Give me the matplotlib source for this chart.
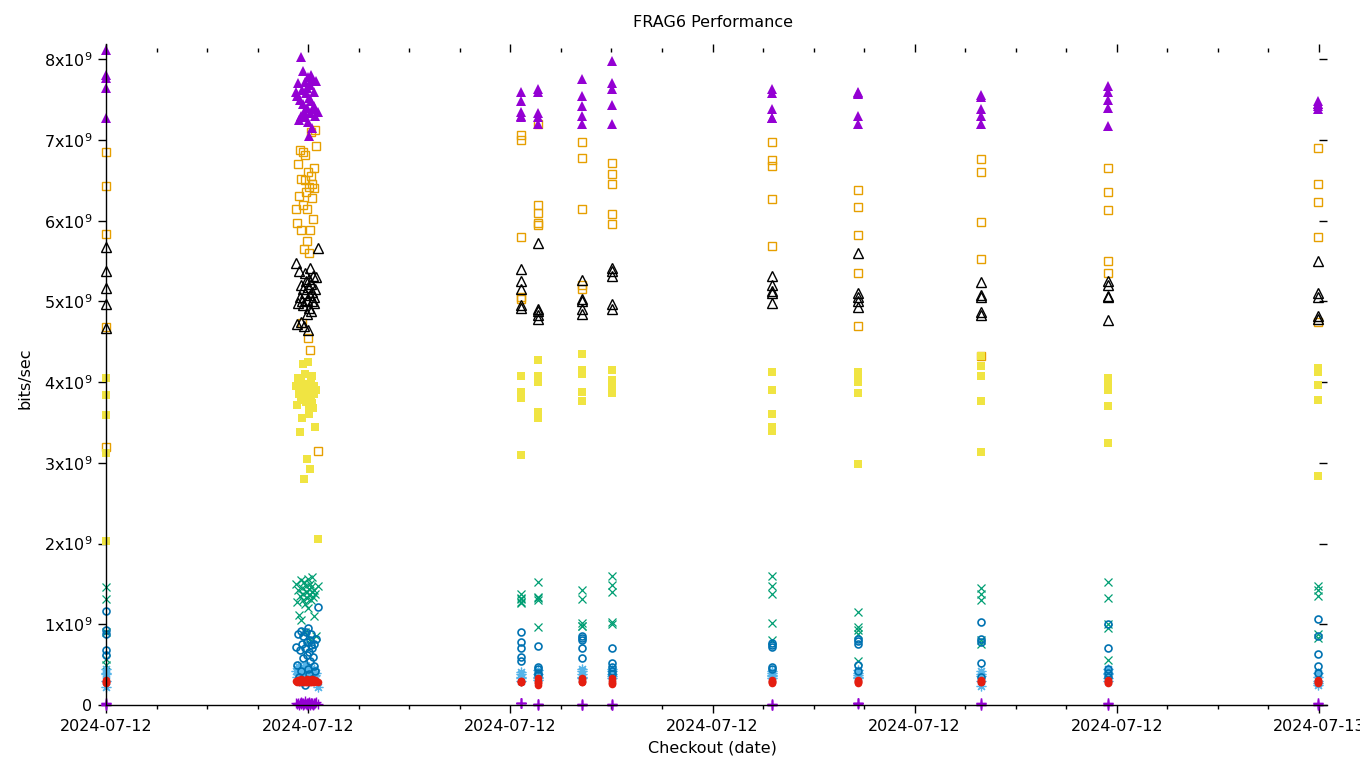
import numpy as np
import pandas as pd
import matplotlib
matplotlib.use("Agg")
import matplotlib.pyplot as plt
import matplotlib.dates as mdates
from matplotlib.ticker import FuncFormatter, MultipleLocator

# run times, hours after 2024-07-12 00:00
cluster_hours = [3.76, 3.78, 3.80, 3.82, 3.83, 3.85, 3.86, 3.88, 3.89, 3.90, 3.92, 3.93,
                 3.94, 3.96, 3.97, 3.98, 3.99, 4.00, 4.01, 4.02, 4.03, 4.04, 4.05, 4.06,
                 4.07, 4.08, 4.09, 4.11, 4.12, 4.14, 4.16, 4.19]
later_hours = [8.22, 8.54, 9.41, 10.02, 13.17, 14.87, 17.32, 19.83, 23.98]
run_hours = [0.0] * 5 + cluster_hours + [h for h in later_hours for _ in range(5)]

# values in units of 1e9 bits/sec, order: first run group, cluster, later groups
plus_purple = [0.03, 0.0, 0.01, 0.02, 0.0,
               0.02, 0.01, 0.03, 0.0, 0.02, 0.04, 0.01, 0.02, 0.0, 0.03, 0.01, 0.02, 0.05, 0.01, 0.02, 0.0,
               0.03, 0.01, 0.02, 0.04, 0.01, 0.0, 0.02, 0.03, 0.01, 0.02, 0.0, 0.03, 0.01, 0.02, 0.04, 0.01,
               0.03, 0.02, 0.03, 0.02, 0.03,  0.01, 0.0, 0.01, 0.0, 0.01,  0.0, 0.01, 0.0, 0.01, 0.0,
               0.0, 0.01, 0.0, 0.01, 0.0,  0.0, 0.01, 0.0, 0.01, 0.0,  0.02, 0.01, 0.02, 0.03, 0.02,
               0.03, 0.0, 0.01, 0.03, 0.0,  0.03, 0.0, 0.01, 0.02, 0.0,  0.03, 0.0, 0.01, 0.02, 0.0]
x_green = [1.46, 1.31, 0.9, 0.57, 0.5,
           1.5, 1.28, 1.42, 1.12, 1.35, 1.55, 1.05, 1.45, 1.3, 1.38, 1.52, 0.9, 1.25, 1.48, 1.4, 1.33,
           1.56, 1.2, 1.44, 1.36, 1.5, 0.82, 1.3, 1.46, 1.4, 1.58, 1.34, 1.1, 1.42, 1.38, 0.85, 1.48,
           1.37, 1.33, 1.31, 1.28, 1.26,  1.52, 1.34, 1.32, 1.3, 0.97,  1.42, 1.31, 1.01, 0.98, 0.98,
           1.6, 1.49, 1.4, 1.03, 1.0,  1.6, 1.48, 1.38, 1.01, 0.8,  1.15, 0.97, 0.93, 0.88, 0.55,
           1.45, 1.38, 1.3, 0.8, 0.75,  1.53, 1.32, 1.0, 0.95, 0.56,  1.48, 1.42, 1.35, 0.88, 0.83]
star_lightblue = [0.45, 0.4, 0.38, 0.3, 0.22,
                  0.42, 0.35, 0.48, 0.3, 0.38, 0.45, 0.33, 0.4, 0.28, 0.44, 0.36, 0.5, 0.32, 0.4, 0.46, 0.34,
                  0.38, 0.42, 0.3, 0.47, 0.36, 0.4, 0.33, 0.44, 0.38, 0.35, 0.42, 0.31, 0.45, 0.37, 0.4, 0.22,
                  0.41, 0.38, 0.35, 0.33, 0.3,  0.43, 0.38, 0.35, 0.33, 0.31,  0.45, 0.42, 0.38, 0.35, 0.33,
                  0.45, 0.42, 0.39, 0.36, 0.33,  0.42, 0.4, 0.37, 0.36, 0.34,  0.43, 0.4, 0.37, 0.35, 0.33,
                  0.42, 0.38, 0.36, 0.3, 0.24,  0.45, 0.4, 0.38, 0.33, 0.3,  0.4, 0.35, 0.3, 0.27, 0.25]
sq_orange = [6.85, 6.43, 5.83, 4.68, 3.2,
             6.15, 5.97, 6.7, 6.3, 6.88, 5.88, 6.52, 4.73, 6.2, 6.85, 5.65, 6.5, 6.82, 6.35, 6.15, 5.75,
             4.55, 6.6, 6.42, 5.6, 4.4, 5.88, 6.55, 7.1, 6.45, 6.28, 6.02, 6.4, 6.65, 7.12, 6.93, 3.15,
             7.06, 7.0, 5.8, 5.05, 5.03,  7.2, 6.2, 6.1, 5.97, 5.95,  6.98, 6.78, 6.15, 5.2, 5.15,
             6.72, 6.58, 6.45, 6.08, 5.96,  6.98, 6.75, 6.68, 6.27, 5.69,  6.38, 6.17, 5.82, 5.35, 4.7,
             6.77, 6.6, 5.98, 5.53, 4.32,  6.65, 6.36, 6.13, 5.5, 5.35,  6.9, 6.45, 6.23, 5.8, 4.75]
fsq_yellow = [4.05, 3.84, 3.59, 3.12, 2.03,
              3.95, 3.72, 4.05, 3.85, 3.38, 3.78, 4.0, 3.55, 3.9, 4.22, 2.8, 3.82, 4.1, 3.75, 3.05, 3.98,
              4.25, 3.88, 3.6, 3.7, 2.92, 3.92, 4.02, 3.8, 3.74, 4.08, 3.68, 3.85, 3.95, 3.45, 3.9, 2.06,
              4.07, 3.88, 3.82, 3.8, 3.1,  4.28, 4.07, 4.0, 3.63, 3.55,  4.35, 4.15, 4.1, 3.88, 3.77,
              4.15, 4.03, 3.97, 3.9, 3.86,  4.13, 3.9, 3.6, 3.45, 3.4,  4.13, 4.05, 4.0, 3.86, 2.99,
              4.32, 4.2, 4.08, 3.77, 3.14,  4.05, 4.0, 3.9, 3.7, 3.25,  4.17, 4.13, 3.96, 3.78, 2.84]
circ_blue = [1.17, 0.93, 0.88, 0.68, 0.62,
             0.72, 0.5, 0.88, 0.35, 0.68, 0.92, 0.42, 0.75, 0.58, 0.85, 0.3, 0.7, 0.25, 0.9, 0.62, 0.78,
             0.45, 0.95, 0.66, 0.38, 0.8, 0.55, 0.74, 0.88, 0.32, 0.7, 0.6, 0.48, 0.76, 0.42, 0.82, 1.21,
             0.9, 0.78, 0.7, 0.6, 0.55,  0.73, 0.47, 0.45, 0.4, 0.37,  0.86, 0.83, 0.8, 0.7, 0.58,
             0.7, 0.52, 0.47, 0.42, 0.38,  0.77, 0.74, 0.72, 0.47, 0.45,  0.82, 0.79, 0.76, 0.5, 0.42,
             1.03, 0.82, 0.78, 0.52, 0.35,  1.0, 0.7, 0.45, 0.4, 0.35,  1.07, 0.85, 0.63, 0.48, 0.4]
fcirc_red = [0.3, 0.29, 0.28, 0.27, 0.31,
             0.3, 0.29, 0.31, 0.28, 0.3, 0.32, 0.29, 0.3, 0.31, 0.28, 0.3, 0.29, 0.31, 0.3, 0.28, 0.32,
             0.3, 0.29, 0.31, 0.3, 0.28, 0.3, 0.31, 0.29, 0.3, 0.32, 0.28, 0.3, 0.29, 0.31, 0.3, 0.29,
             0.3, 0.29, 0.28, 0.3, 0.29,  0.33, 0.3, 0.28, 0.27, 0.25,  0.34, 0.32, 0.3, 0.29, 0.28,
             0.33, 0.31, 0.29, 0.27, 0.26,  0.31, 0.3, 0.28, 0.27, 0.29,  0.31, 0.3, 0.29, 0.28, 0.27,
             0.31, 0.3, 0.28, 0.29, 0.3,  0.31, 0.3, 0.28, 0.27, 0.29,  0.3, 0.29, 0.28, 0.27, 0.31]
tri_black = [5.68, 5.38, 5.17, 4.97, 4.67,
             5.47, 4.72, 4.98, 5.38, 5.05, 4.75, 5.2, 5.0, 5.15, 4.95, 4.7, 5.35, 5.1, 5.25, 4.85, 5.02,
             4.65, 5.18, 5.28, 4.92, 5.42, 5.08, 5.22, 4.88, 5.12, 5.0, 5.32, 5.05, 4.98, 5.15, 5.3, 5.66,
             5.4, 5.25, 5.15, 4.95, 4.92,  5.72, 4.9, 4.88, 4.83, 4.78,  5.27, 5.03, 5.0, 4.9, 4.85,
             5.42, 5.38, 5.32, 4.97, 4.9,  5.32, 5.2, 5.13, 5.1, 4.98,  5.6, 5.1, 5.05, 5.0, 4.93,
             5.24, 5.08, 5.05, 4.87, 4.83,  5.25, 5.2, 5.07, 5.05, 4.77,  5.5, 5.1, 5.05, 4.82, 4.78]
ftri_purple = [8.12, 7.8, 7.77, 7.65, 7.27,
               7.6, 7.55, 7.7, 7.25, 7.5, 8.03, 7.3, 7.62, 7.85, 7.45, 7.35, 7.72, 7.28, 7.58, 7.65, 7.4,
               7.22, 7.78, 7.05, 7.52, 7.68, 7.33, 7.8, 7.48, 7.75, 7.15, 7.38, 7.6, 7.42, 7.3, 7.73, 7.35,
               7.6, 7.48, 7.35, 7.3, 7.28,  7.63, 7.6, 7.33, 7.28, 7.2,  7.76, 7.55, 7.42, 7.3, 7.2,
               7.98, 7.7, 7.63, 7.43, 7.2,  7.63, 7.58, 7.38, 7.27, 7.27,  7.6, 7.57, 7.58, 7.3, 7.2,
               7.56, 7.53, 7.38, 7.3, 7.2,  7.67, 7.6, 7.5, 7.4, 7.17,  7.48, 7.45, 7.42, 7.38, 7.45]

start = pd.Timestamp("2024-07-12")
times = start + pd.to_timedelta(run_hours, unit="h")

series = [
    (plus_purple, dict(marker="+", color="#9400d3", ms=7, mew=1.0)),
    (x_green, dict(marker="x", color="#009e73", ms=6, mew=0.9)),
    (star_lightblue, dict(marker=(8, 2, 0), color="#56b4e9", ms=7, mew=0.9)),
    (sq_orange, dict(marker="s", mfc="none", mec="#e69f00", ms=5.5, mew=1.0)),
    (fsq_yellow, dict(marker="s", color="#f0e442", ms=5.5, mew=0)),
    (circ_blue, dict(marker="o", mfc="none", mec="#0072b2", ms=5, mew=1.2)),
    (fcirc_red, dict(marker="o", color="#e51e10", ms=5.5, mew=0)),
    (tri_black, dict(marker="^", mfc="none", mec="black", ms=6.5, mew=1.0)),
    (ftri_purple, dict(marker="^", color="#9400d3", ms=6.5, mew=0)),
]

fig = plt.figure(figsize=(13.6, 7.68), dpi=100)
ax = fig.add_axes([106 / 1360, 63 / 768, 1213 / 1360, 653 / 768])

for vals, kw in series:
    ax.plot(times, np.array(vals) * 1e9, linestyle="none", clip_on=False, **kw)

t0 = mdates.date2num(start)
ax.set_xlim(t0, t0 + 1.0)
ax.set_ylim(0, 8.09e9)

ax.xaxis.set_major_locator(mdates.HourLocator(byhour=[0, 4, 8, 12, 16, 20]))
ax.xaxis.set_minor_locator(mdates.HourLocator())
ax.xaxis.set_major_formatter(mdates.DateFormatter("%Y-%m-%d"))
ax.yaxis.set_major_locator(MultipleLocator(1e9))
ax.yaxis.set_major_formatter(FuncFormatter(
    lambda v, p: "0" if v == 0 else "%dx10$^{9}$" % round(v / 1e9)))

for s in ["top", "right"]:
    ax.spines[s].set_visible(False)
for s in ["left", "bottom"]:
    ax.spines[s].set_linewidth(1.0)
ax.spines["left"].set_bounds(0, 8.19e9)
ax.spines["bottom"].set_bounds(t0, t0 + 24.16 / 24)

ax.tick_params(which="both", direction="out", top=True, right=True, width=1.0,
               labelsize=11.5, pad=4)
ax.tick_params(which="major", length=6)
ax.tick_params(which="minor", length=3)
ax.tick_params(axis="y", which="minor", left=False, right=False)

ax.set_xlabel("Checkout (date)", fontsize=11.5, labelpad=5)
ax.set_ylabel("bits/sec", fontsize=11.5, labelpad=8)
ax.set_title("FRAG6 Performance", fontsize=11.5, pad=18)

fig.savefig("out.png", dpi=100)
